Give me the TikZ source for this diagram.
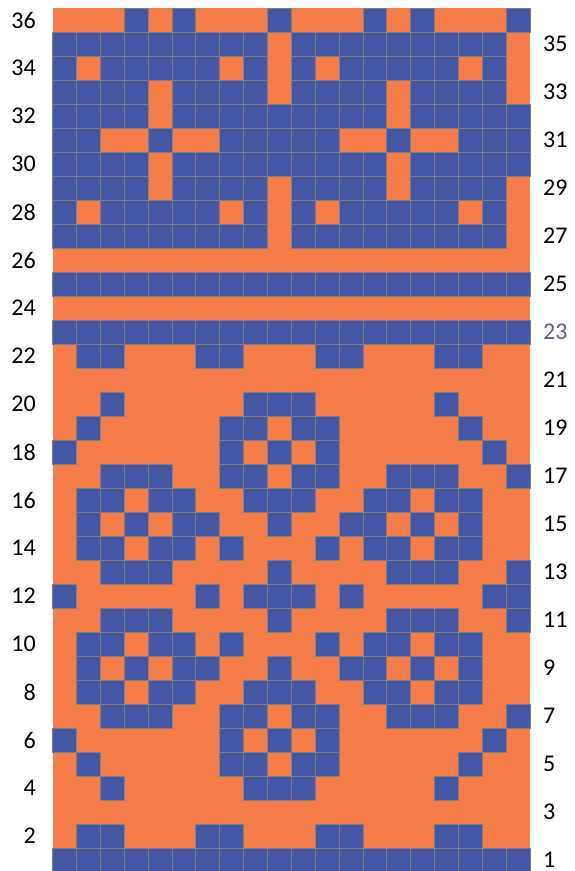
\documentclass[tikz,border=0pt]{standalone}
\usepackage{fontspec}
\setmainfont{Carlito}
\usepackage{tikz}
\definecolor{knitorange}{HTML}{F47D4A}
\definecolor{knitblue}{HTML}{4556A5}
\definecolor{gridgrey}{HTML}{7F7F7F}
\definecolor{markgrey}{HTML}{5C6079}

\begin{document}
\begin{tikzpicture}[
    x=1pt, y=1pt,
    knit/.style={fill=knitblue, draw=gridgrey, line width=0.9pt},
    rowno/.style={font=\fontsize{24}{28}\selectfont, inner sep=0pt},
    row23/.style={text=markgrey}
]
    \useasboundingbox (0,0) rectangle (575,871);

    % Background colour of the chart
    \fill[knitorange] (52.7,-1) rectangle (530,863);

    % Contrast stitches, row by row (row / blue columns)
    \begin{scope}[shift={(52.7,-1)}, x=23.87pt, y=24pt]
        \foreach \r/\cols in {
            36/{4,6,10,14,16,20},
            35/{1,2,3,4,5,6,7,8,9,11,12,13,14,15,16,17,18,19},
            34/{1,3,4,5,6,7,9,11,13,14,15,16,17,19},
            33/{1,2,3,4,6,7,8,9,11,12,13,14,16,17,18,19},
            32/{1,2,3,4,6,7,8,9,10,11,12,13,14,16,17,18,19,20},
            31/{1,2,5,8,9,10,11,12,15,18,19,20},
            30/{1,2,3,4,6,7,8,9,10,11,12,13,14,16,17,18,19,20},
            29/{1,2,3,4,6,7,8,9,11,12,13,14,16,17,18,19},
            28/{1,3,4,5,6,7,9,11,13,14,15,16,17,19},
            27/{1,2,3,4,5,6,7,8,9,11,12,13,14,15,16,17,18,19},
            25/{1,...,20},
            23/{1,...,20},
            22/{2,3,7,8,12,13,17,18},
            20/{3,9,10,11,17},
            19/{2,8,9,11,12,18},
            18/{1,8,10,12,19},
            17/{3,4,5,8,9,11,12,15,16,17,20},
            16/{2,3,5,6,9,10,11,14,15,17,18},
            15/{2,4,6,7,10,13,14,16,18},
            14/{2,3,5,6,8,12,14,15,17,18},
            13/{3,4,5,10,15,16,17,20},
            12/{1,7,9,10,11,13,19,20},
            11/{3,4,5,10,15,16,17,20},
            10/{2,3,5,6,8,12,14,15,17,18},
            9/{2,4,6,7,10,13,14,16,18},
            8/{2,3,5,6,9,10,11,14,15,17,18},
            7/{3,4,5,8,9,11,12,15,16,17,20},
            6/{1,8,10,12,19},
            5/{2,8,9,11,12,18},
            4/{3,9,10,11,17},
            2/{2,3,7,8,12,13,17,18},
            1/{1,...,20}} {
            \foreach \c in \cols
                \draw[knit] (\c-1,\r-1) rectangle (\c,\r);
        }
    \end{scope}

    % Row numbers: even on the left, odd on the right
    \foreach \r in {2,4,...,36}
        \node[rowno, anchor=east] (row\r) at (36,24*\r-13) {\r};
    \foreach \r in {1,3,...,35}
        \node[rowno, row\r/.try, anchor=west] (row\r) at (543,24*\r-13) {\r};

\end{tikzpicture}
\end{document}
